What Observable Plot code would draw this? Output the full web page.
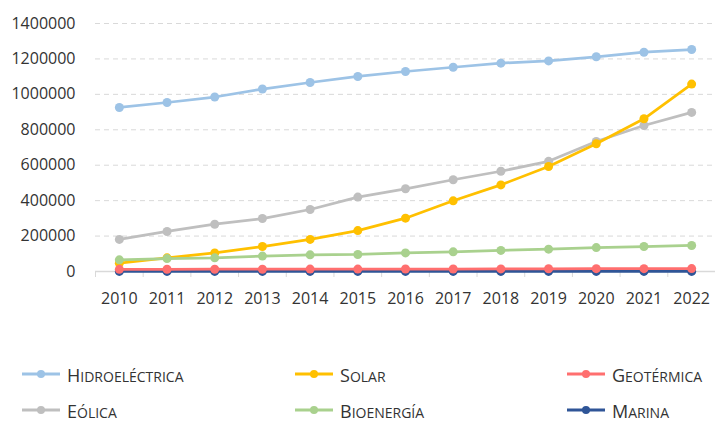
<!DOCTYPE html>
<html><head><meta charset="utf-8">
<script src="https://cdn.jsdelivr.net/npm/d3@7"></script>
<script src="https://cdn.jsdelivr.net/npm/@observablehq/plot@0.6"></script>
<style>
body{margin:0;background:#fff;font-family:"Open Sans",sans-serif;}
#wrap{position:relative;width:715px;height:423px;}
#legend .item{position:absolute;display:flex;align-items:center;color:#333;line-height:1;height:20px;}
#legend svg{margin-right:7px;flex:none;}
#legend .cap{font-size:18px;}
#legend .rest{font-size:14px;text-transform:uppercase;}
#legend .txt{white-space:nowrap;position:relative;top:1px;}
</style></head><body>
<div id="wrap"><div id="chart"></div><div id="legend"></div></div>
<script>
const years = [2010,2011,2012,2013,2014,2015,2016,2017,2018,2019,2020,2021,2022];
const hidroelectrica = [926000,954000,985000,1030000,1067000,1101000,1129000,1153000,1176000,1189000,1212000,1238000,1253000];
const solar = [47000,77000,105000,141000,181000,231000,301000,399000,489000,593000,721000,862000,1058000];
const geotermica = [12000,12500,13000,13000,13500,13500,14000,14000,14500,15500,16000,16000,16500];
const eolica = [181000,226000,267000,299000,350000,420000,467000,518000,566000,622000,734000,824000,898000];
const bioenergia = [66000,73000,77000,87000,94000,96000,105000,111000,119000,126000,135000,141000,147000];
const marina = [500,500,500,500,500,500,500,500,500,500,500,500,500];

const seriesNames = ["Hidroeléctrica","Solar","Geotérmica","Eólica","Bioenergía","Marina"];
const seriesValues = [hidroelectrica, solar, geotermica, eolica, bioenergia, marina];
const seriesColors = ["#9dc3e6","#ffc000","#ff6f6f","#bfbfbf","#a9d18e","#2f5597"];
const drawOrder = ["Hidroeléctrica","Eólica","Solar","Bioenergía","Marina","Geotérmica"];
const yTicks = [0,200000,400000,600000,800000,1000000,1200000,1400000];

const rows = seriesNames.flatMap((n,k)=>years.map((yr,i)=>({series:n, year:yr, value:seriesValues[k][i]})));
const boundaries = [...years.map(y=>y-0.5), years[years.length-1]+0.5];

const seriesMarks = drawOrder.flatMap(name=>{
  const k = seriesNames.indexOf(name);
  const d = rows.filter(r=>r.series===name);
  return [
    Plot.line(d,{x:"year",y:"value",stroke:seriesColors[k],strokeWidth:2.75}),
    Plot.dot(d,{x:"year",y:"value",fill:seriesColors[k],r:4.5,stroke:null})
  ];
});

const chart = Plot.plot({
  width:715, height:320,
  marginTop:23, marginBottom:49, marginLeft:95, marginRight:0,
  style:{fontSize:"16px", fontFamily:"'Open Sans',sans-serif", color:"#333", background:"#fff"},
  x:{type:"linear", domain:[years[0]-0.5, years[years.length-1]+0.5], label:null},
  y:{domain:[0,1400000], label:null},
  marks:[
    Plot.gridY(yTicks.filter(d=>d>0),{stroke:"#d9d9d9",strokeOpacity:1,strokeDasharray:"5,4"}),
    Plot.axisY(yTicks,{tickSize:0,tickPadding:20,tickFormat:d3.format("d"),fontSize:16,label:null}),
    Plot.axisX(boundaries,{tickSize:6,tickFormat:()=>"",stroke:"#d9d9d9",label:null}),
    Plot.ruleY([0],{stroke:"#d9d9d9",strokeWidth:1.5}),
    Plot.axisX(years,{tickSize:0,tickPadding:21,tickFormat:d=>String(d),fontSize:16,label:null}),
    ...seriesMarks
  ]
});
document.getElementById("chart").appendChild(chart);

const legendPos = [[22,364],[295,364],[567,364],[22,400],[295,400],[567,400]];
const legend = document.getElementById("legend");
seriesNames.forEach((n,k)=>{
  const it = document.createElement("div");
  it.className="item";
  it.style.left=legendPos[k][0]+"px";
  it.style.top=legendPos[k][1]+"px";
  it.innerHTML = `<svg width="38" height="20"><line x1="0" x2="38" y1="10" y2="10" stroke="${seriesColors[k]}" stroke-width="3"/><circle cx="19" cy="10" r="4" fill="${seriesColors[k]}"/></svg><span class="txt"><span class="cap">${n[0]}</span><span class="rest">${n.slice(1)}</span></span>`;
  legend.appendChild(it);
});
</script>
</body></html>
